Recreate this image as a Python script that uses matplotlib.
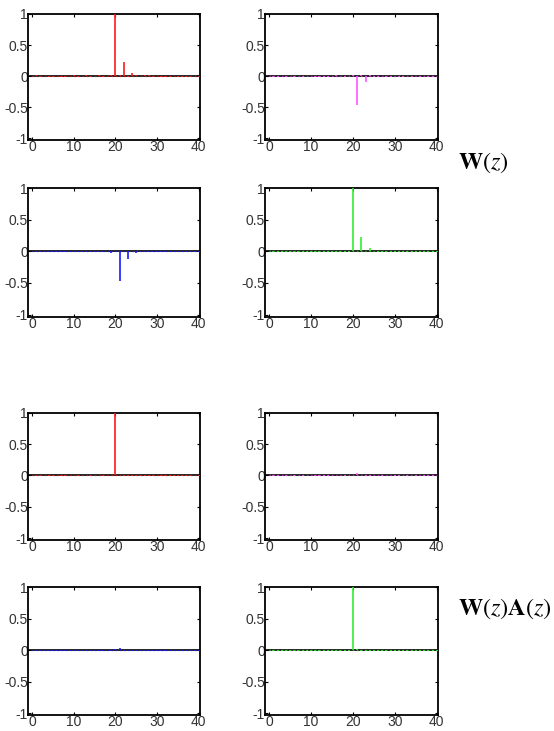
import matplotlib
matplotlib.use("Agg")
import numpy as np
import matplotlib.pyplot as plt

plt.rcParams["font.family"] = ["Liberation Sans", "DejaVu Sans"]
plt.rcParams["mathtext.fontset"] = "stix"

# filter taps, index 0..40
n = np.arange(41)

# W(z) rows
w11 = [0.00, 0.01, -0.01, 0.00, -0.01, -0.01, 0.00, -0.01, -0.01, 0.00,
       0.01, -0.01, 0.00, 0.01, -0.01, 0.00, 0.01, -0.01, 0.00, 0.01,
       1.00, 0.01, 0.22, -0.02, 0.05, 0.01, 0.00, 0.01, 0.01, -0.01,
       0.00, -0.01, -0.01, -0.01, 0.00, -0.01, -0.01, -0.01, -0.01, 0.00, -0.01]
w12 = [0.00, -0.01, -0.01, 0.00, -0.01, 0.00, -0.01, 0.00, -0.01, 0.00,
       0.00, -0.01, -0.01, -0.01, -0.01, 0.00, 0.01, 0.00, -0.01, 0.00,
       0.01, -0.47, 0.01, -0.10, 0.01, -0.01, -0.01, 0.00, -0.01, -0.01,
       0.00, -0.01, -0.01, 0.00, -0.01, 0.00, -0.01, 0.00, -0.01, -0.01, 0.00]
w21 = [0.00, -0.01, -0.01, -0.01, -0.01, -0.01, -0.01, -0.01, -0.01, -0.01,
       -0.01, -0.01, -0.01, -0.01, -0.01, -0.01, -0.01, -0.01, 0.01, -0.03,
       0.01, -0.47, 0.01, -0.12, 0.01, -0.03, -0.01, -0.01, -0.01, -0.01,
       -0.01, -0.01, -0.01, -0.01, -0.01, -0.01, -0.01, -0.01, -0.01, -0.01, -0.01]
w22 = [0.00, -0.01, -0.01, -0.01, -0.01, -0.01, -0.01, -0.01, -0.01, -0.01,
       -0.01, -0.01, -0.01, -0.01, -0.01, -0.01, -0.01, -0.01, -0.01, -0.01,
       1.00, 0.01, 0.22, 0.01, 0.06, 0.01, -0.01, -0.01, -0.01, -0.01,
       -0.01, -0.01, -0.01, -0.01, -0.01, -0.01, -0.01, -0.01, -0.01, -0.01, -0.01]

# W(z)A(z) rows
g11 = [0.00, -0.01, -0.01, 0.00, -0.01, -0.01, 0.00, -0.01, -0.01, 0.00,
       0.01, -0.01, 0.00, 0.01, -0.01, 0.00, 0.01, -0.01, 0.00, 0.01,
       1.00, 0.01, -0.01, -0.01, -0.01, -0.01, -0.01, -0.01, -0.01, -0.01,
       0.00, -0.01, -0.01, -0.01, -0.01, -0.01, -0.01, -0.01, -0.01, 0.00, -0.01]
g12 = [0.00, -0.01, -0.01, 0.00, -0.01, 0.00, -0.01, 0.00, -0.01, 0.00,
       0.00, -0.01, -0.01, -0.01, -0.01, 0.00, 0.01, 0.00, -0.01, 0.00,
       0.01, 0.04, 0.01, -0.01, -0.01, 0.00, 0.01, -0.01, 0.00, 0.01,
       -0.01, -0.01, 0.00, -0.01, 0.00, -0.01, 0.00, -0.01, -0.01, -0.01, 0.00]
g21 = [0.00, -0.01, -0.01, -0.01, -0.01, -0.01, -0.01, -0.01, -0.01, -0.01,
       -0.01, -0.01, -0.01, -0.01, -0.01, -0.01, -0.01, -0.01, 0.00, -0.01,
       0.01, 0.03, -0.01, -0.01, -0.01, -0.01, -0.01, -0.01, -0.01, -0.01,
       -0.01, -0.01, -0.01, -0.01, -0.01, -0.01, -0.01, -0.01, -0.01, -0.01, -0.01]
g22 = [0.00, -0.01, -0.01, -0.01, -0.01, -0.01, -0.01, -0.01, -0.01, -0.01,
       -0.01, -0.01, -0.01, -0.01, -0.01, -0.01, -0.01, -0.01, -0.01, -0.01,
       1.00, 0.01, -0.01, -0.01, -0.01, -0.01, -0.01, -0.01, -0.01, -0.01,
       -0.01, -0.01, -0.01, -0.01, -0.01, -0.01, -0.01, -0.01, -0.01, -0.01, -0.01]

COLORS = ["#ff1a1a", "#ff55ff", "#1a1aff", "#33ee33"]

# axes boxes [left, bottom, width, height] in figure fractions
COLS = [(0.0505, 0.3105), (0.4783, 0.3123)]
ROWS = [(0.8085, 0.1724), (0.5670, 0.1758), (0.2613, 0.1740), (0.0219, 0.1750)]

panels = [w11, w12, w21, w22, g11, g12, g21, g22]

fig = plt.figure(figsize=(5.54, 7.31), dpi=100)
for i, vals in enumerate(panels):
    r, c = divmod(i, 2)
    left, w = COLS[c]
    bottom, h = ROWS[r]
    ax = fig.add_axes([left, bottom, w, h])
    col = COLORS[(i % 4)]
    ax.axhline(0, color="black", lw=1.2, zorder=2)
    # dotted baseline in the stem colour, then the stems themselves
    ax.plot(n, np.zeros_like(n), color=col, lw=1.0, ls=(0, (1, 2)), alpha=0.6, zorder=3)
    ax.vlines(n, 0, vals, color=col, lw=1.2, zorder=4)
    ax.set_xlim(-1, 40.3)
    ax.set_ylim(-1.03, 1.0)
    ax.set_xticks([0, 10, 20, 30, 40])
    ax.set_yticks([-1, -0.5, 0, 0.5, 1])
    ax.set_yticklabels(["-1", "-0.5", "0", "0.5", "1"])
    ax.tick_params(direction="in", length=2.5, width=0.8, top=True, right=True,
                   labelsize=10, labelcolor="#333333", pad=0)
    for s in ax.spines.values():
        s.set_linewidth(1.3)

fig.text(0.826, 0.777, r"$\mathbf{W}(z)$", fontsize=17.5, va="center", ha="left")
fig.text(0.826, 0.167, r"$\mathbf{W}(z)\mathbf{A}(z)$", fontsize=17.5, va="center", ha="left")

fig.savefig("out.png", dpi=100)
